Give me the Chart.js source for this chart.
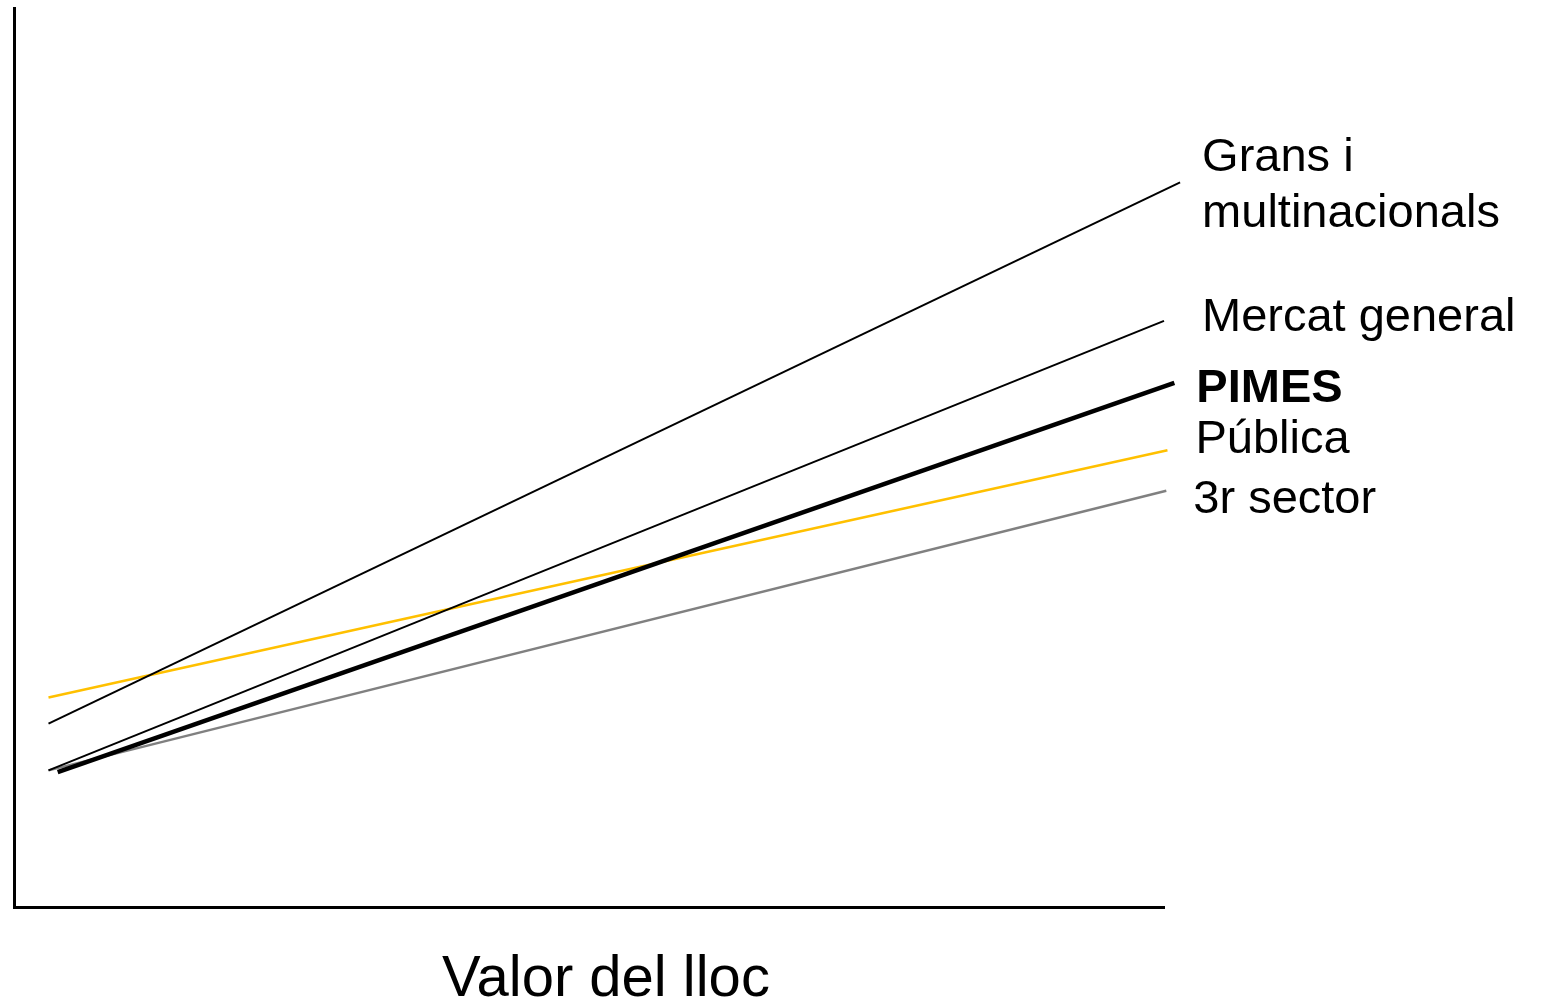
<!DOCTYPE html>
<html>
<head>
<meta charset="utf-8">
<script src="https://cdn.jsdelivr.net/npm/chart.js@4"></script>
<style>
html,body{margin:0;padding:0;background:#fff;}
#wrap{width:1542px;height:1000px;position:relative;}
</style>
</head>
<body>
<div id="wrap"><canvas id="c"></canvas></div>
<script>
// Data (x = position along "Valor del lloc", y = relative level)
const seriesNames = ["PIMES", "Grans i multinacionals", "Mercat general", "Pública", "3r sector"];
const pimesPts   = [{x: 3.8, y: 15.0}, {x: 100.9, y: 58.3}];
const gransPts   = [{x: 3.0, y: 20.4}, {x: 101.4, y: 80.6}];
const mercatPts  = [{x: 3.0, y: 15.2}, {x: 100.0, y: 65.2}];
const publicaPts = [{x: 3.0, y: 23.3}, {x: 100.3, y: 50.8}];
const tercerPts  = [{x: 3.0, y: 15.2}, {x: 100.2, y: 46.3}];
const xAxisTitle = "Valor del lloc";

const FONT = "'Liberation Sans', Arial, sans-serif";

// label styling: lines of text, offset from the line end, weight
const labelStyle = [
  {lines: ["PIMES"], dx: 22, dy: 19, weight: "bold"},
  {lines: ["Grans i", "multinacionals"], dx: 22, dy: -11, weight: "normal"},
  {lines: ["Mercat general"], dx: 38, dy: 10, weight: "normal"},
  {lines: ["Pública"], dx: 28, dy: 3, weight: "normal"},
  {lines: ["3r sector"], dx: 27, dy: 22, weight: "normal"}
];

const endLabels = {
  id: 'endLabels',
  afterDatasetsDraw(chart) {
    const ctx = chart.ctx;
    ctx.save();
    ctx.fillStyle = '#000';
    ctx.textAlign = 'left';
    ctx.textBaseline = 'alphabetic';
    chart.data.datasets.forEach((ds, i) => {
      const meta = chart.getDatasetMeta(i);
      const last = meta.data[meta.data.length - 1];
      const st = labelStyle[i];
      ctx.font = st.weight + " 47px " + FONT;
      st.lines.forEach((t, k) => {
        ctx.fillText(t, last.x + st.dx, last.y + st.dy + k * 56);
      });
    });
    // axis title below the x axis
    const ca = chart.chartArea;
    ctx.font = "normal 58px " + FONT;
    ctx.textAlign = 'center';
    ctx.fillText(xAxisTitle, (ca.left + ca.right) / 2 + 17, ca.bottom + 89);
    ctx.restore();
  }
};

const mk = (label, data, color, width) => ({
  label, data, borderColor: color, backgroundColor: color,
  borderWidth: width, pointRadius: 0, pointHoverRadius: 0,
  fill: false, tension: 0, clip: false, borderCapStyle: 'butt'
});

new Chart(document.getElementById('c'), {
  type: 'line',
  data: {
    datasets: [
      mk(seriesNames[0], pimesPts, '#000000', 4.5),
      mk(seriesNames[1], gransPts, '#000000', 2),
      mk(seriesNames[2], mercatPts, '#000000', 2),
      mk(seriesNames[3], publicaPts, '#FFC000', 2.5),
      mk(seriesNames[4], tercerPts, '#808080', 2.5)
    ]
  },
  options: {
    responsive: true,
    maintainAspectRatio: false,
    animation: false,
    events: [],
    layout: {padding: {left: 14, right: 378, top: 8, bottom: 93}},
    plugins: {legend: {display: false}, tooltip: {enabled: false}, title: {display: false}},
    scales: {
      x: {
        type: 'linear', min: 0, max: 100,
        grid: {display: false, drawTicks: false},
        ticks: {display: false},
        border: {display: true, color: '#000', width: 3}
      },
      y: {
        type: 'linear', min: 0, max: 100,
        grid: {display: false, drawTicks: false},
        ticks: {display: false},
        border: {display: true, color: '#000', width: 3}
      }
    }
  },
  plugins: [endLabels]
});
</script>
</body>
</html>
